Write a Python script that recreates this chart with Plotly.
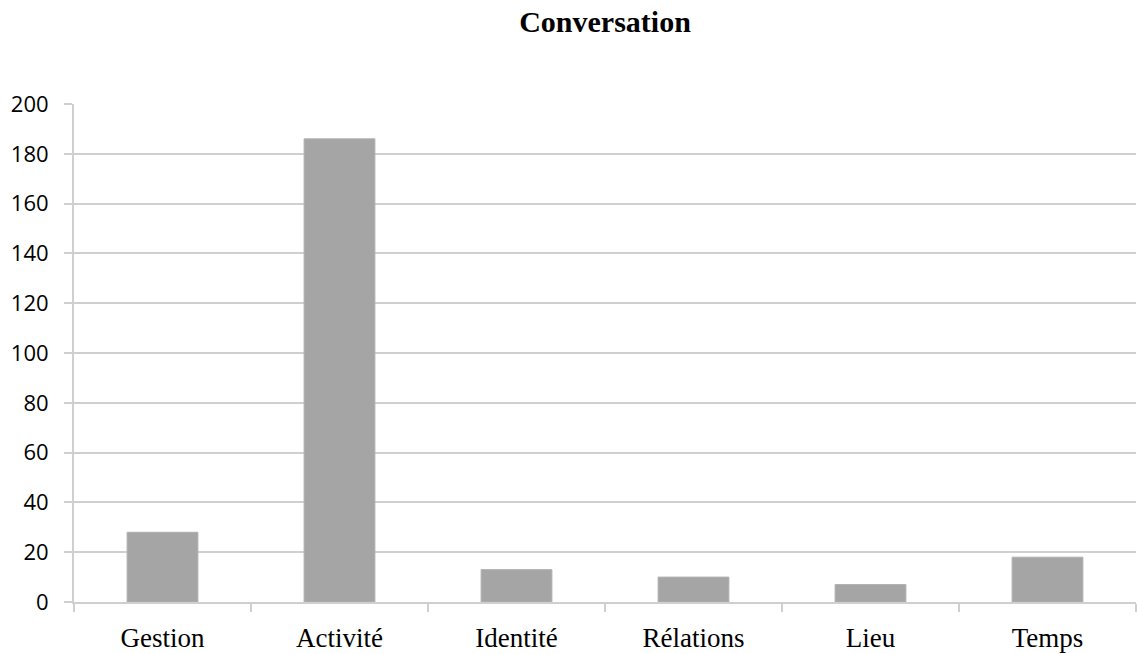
import plotly.graph_objects as go

categories = ["Gestion", "Activité", "Identité", "Rélations", "Lieu", "Temps"]
counts = [28, 186, 13, 10, 7, 18]
y_ticks = [0, 20, 40, 60, 80, 100, 120, 140, 160, 180, 200]

fig = go.Figure(
    go.Bar(
        x=categories,
        y=counts,
        marker=dict(color="#a5a5a5", line=dict(color="#b0b0b0", width=1)),
        width=0.4,
    )
)

fig.update_layout(
    width=1138,
    height=654,
    margin=dict(l=74, r=2, t=104, b=52),
    paper_bgcolor="white",
    plot_bgcolor="white",
    showlegend=False,
    title=dict(
        text="<b>Conversation</b>",
        x=0.5,
        xref="paper",
        xanchor="center",
        y=1 - 21 / 654,
        yanchor="middle",
        font=dict(family="Liberation Serif", size=30, color="black"),
    ),
)

fig.update_xaxes(
    automargin=False,
    showline=True,
    linecolor="#cfcfcf",
    linewidth=2,
    ticks="outside",
    tickson="boundaries",
    ticklen=8,
    tickwidth=2,
    tickcolor="#cfcfcf",
    ticklabelstandoff=11,
    tickfont=dict(family="Liberation Serif", size=27, color="black"),
    showgrid=False,
)

fig.update_yaxes(
    automargin=False,
    range=[0, 200],
    tickvals=y_ticks,
    showgrid=True,
    gridcolor="#cfcfcf",
    gridwidth=2,
    showline=True,
    linecolor="#cfcfcf",
    linewidth=2,
    ticks="outside",
    ticklen=8,
    tickwidth=2,
    tickcolor="#cfcfcf",
    ticklabelstandoff=11,
    zeroline=False,
    tickfont=dict(family="Open Sans", size=22, color="black"),
)

fig.write_html("out.html")
